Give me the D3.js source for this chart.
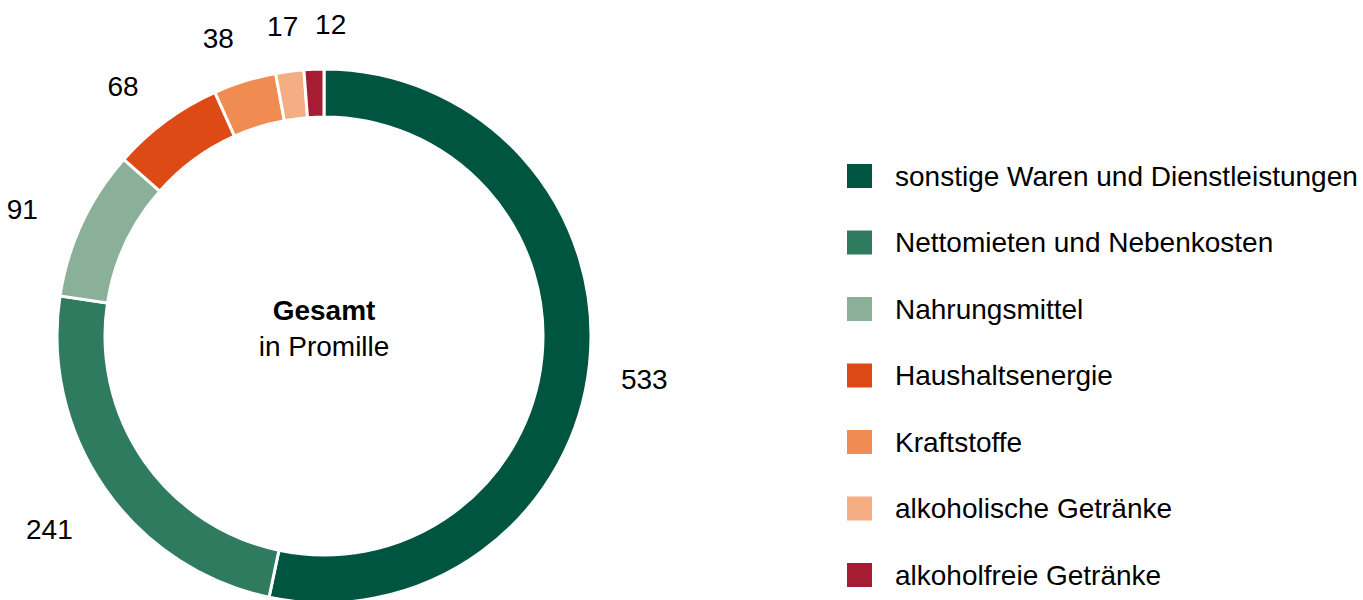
<!DOCTYPE html>
<html>
<head>
<meta charset="utf-8">
<script src="https://cdn.jsdelivr.net/npm/d3@7.9.0/dist/d3.min.js"></script>
<style>
  html, body { margin: 0; padding: 0; background: #fff; }
  svg { display: block; font-family: "Liberation Sans", Arial, sans-serif; }
</style>
</head>
<body>
<svg id="chart" width="1363" height="600"></svg>
<script>
// data (Promille)
const categories = [
  "sonstige Waren und Dienstleistungen",
  "Nettomieten und Nebenkosten",
  "Nahrungsmittel",
  "Haushaltsenergie",
  "Kraftstoffe",
  "alkoholische Getränke",
  "alkoholfreie Getränke"
];
const values = [533, 241, 91, 68, 38, 17, 12];
const colors = ["#005541", "#2e7b5f", "#8ab09a", "#dd4a16", "#f08b51", "#f5ae83", "#a61d33"];

const svg = d3.select("#chart");
const cx = 324, cy = 336;
const outerR = 267, innerR = 219, labelR = 322;

const data = categories.map((c, i) => ({ label: c, value: values[i], color: colors[i] }));

const pie = d3.pie().value(d => d.value).sort(null);
const arcs = pie(data);
const arc = d3.arc().innerRadius(innerR).outerRadius(outerR);

const g = svg.append("g").attr("transform", `translate(${cx},${cy})`);

g.selectAll("path.slice")
  .data(arcs)
  .enter()
  .append("path")
  .attr("class", "slice")
  .attr("d", arc)
  .attr("fill", d => d.data.color)
  .attr("stroke", "#fff")
  .attr("stroke-width", 3);

// value labels outside the ring
const labelArc = d3.arc().innerRadius(labelR).outerRadius(labelR);
let pos = arcs.map(d => {
  const [x, y] = labelArc.centroid(d);
  // labels sit a bit lower, and a bit further out on the left side
  return { x: x < -50 ? x - 10 : x, y: y + 10, text: d.data.value };
});
// push small neighbouring labels apart
for (let i = 1; i < pos.length; i++) {
  const p = pos[i - 1], q = pos[i];
  if (Math.abs(q.y - p.y) < 24 && Math.abs(q.x - p.x) < 48) q.x = p.x + 48;
}

g.selectAll("text.val")
  .data(pos)
  .enter()
  .append("text")
  .attr("class", "val")
  .attr("x", d => d.x)
  .attr("y", d => d.y)
  .attr("text-anchor", "middle")
  .attr("dominant-baseline", "central")
  .attr("font-size", 28)
  .attr("fill", "#000")
  .text(d => d.text);

// centre label
g.append("text")
  .attr("text-anchor", "middle")
  .attr("y", -16)
  .attr("font-size", 28)
  .attr("font-weight", "bold")
  .text("Gesamt");
g.append("text")
  .attr("text-anchor", "middle")
  .attr("y", 20)
  .attr("font-size", 28)
  .text("in Promille");

// legend
const legendY = d3.scalePoint().domain(categories).range([176, 575]);
const legend = svg.append("g").attr("transform", "translate(847,0)");

const items = legend.selectAll("g.item")
  .data(data)
  .enter()
  .append("g")
  .attr("class", "item")
  .attr("transform", d => `translate(0,${legendY(d.label)})`);

items.append("rect")
  .attr("x", 0)
  .attr("y", -12)
  .attr("width", 25)
  .attr("height", 24)
  .attr("fill", d => d.color);

items.append("text")
  .attr("x", 48)
  .attr("y", 0)
  .attr("dominant-baseline", "central")
  .attr("font-size", 28)
  .attr("fill", "#000")
  .text(d => d.label);
</script>
</body>
</html>
